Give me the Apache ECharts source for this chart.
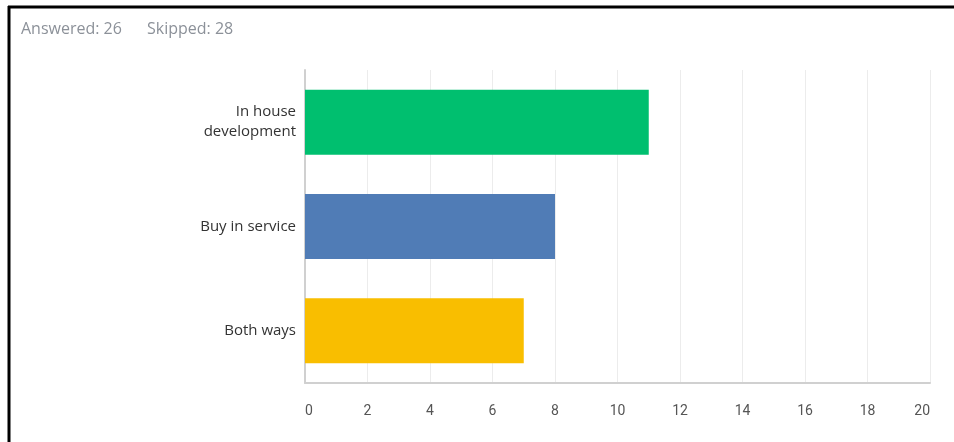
<!DOCTYPE html>
<html>
<head>
<meta charset="utf-8">
<script src="https://cdn.jsdelivr.net/npm/echarts@6/dist/echarts.min.js"></script>
<style>
html,body{margin:0;padding:0;background:#fff;}
#chart{width:954px;height:442px;}
</style>
</head>
<body>
<div id="chart"></div>
<script>
var categories = ['In house\ndevelopment', 'Buy in service', 'Both ways'];
var values = [11, 8, 7];
var barColors = ['#00BF6F', '#507CB6', '#F9BE00'];
var answeredText = 'Answered: 26';
var skippedText = 'Skipped: 28';

var chart = echarts.init(document.getElementById('chart'));
chart.setOption({
  animation: false,
  backgroundColor: '#fff',
  graphic: [
    {type: 'line', shape: {x1: 8, y1: 7, x2: 954, y2: 7}, style: {stroke: '#000', lineWidth: 3}},
    {type: 'line', shape: {x1: 9, y1: 6, x2: 9, y2: 442}, style: {stroke: '#000', lineWidth: 3}},
    {type: 'text', left: 21, top: 21, style: {text: answeredText, fill: '#8c9199', font: '16px "Open Sans", Roboto, sans-serif'}},
    {type: 'text', left: 147, top: 21, style: {text: skippedText, fill: '#8c9199', font: '16px "Open Sans", Roboto, sans-serif'}}
  ],
  grid: {left: 305, right: 24, top: 70, bottom: 59, containLabel: false},
  xAxis: {
    type: 'value', min: 0, max: 20, interval: 2,
    axisLine: {show: true, lineStyle: {color: '#d0d0d0', width: 2}},
    axisTick: {show: false},
    splitLine: {show: true, lineStyle: {color: '#ececec'}},
    axisLabel: {color: '#555', fontSize: 14, margin: 21, fontFamily: 'Roboto, sans-serif', alignMinLabel: 'left', alignMaxLabel: 'right'}
  },
  yAxis: {
    type: 'category', inverse: true, data: categories,
    axisLine: {show: true, lineStyle: {color: '#d0d0d0', width: 2}},
    axisTick: {show: false},
    axisLabel: {color: '#333', fontSize: 15, margin: 9, lineHeight: 20, fontFamily: '"Open Sans", Roboto, sans-serif', align: 'right'}
  },
  series: [{
    type: 'bar', barWidth: 65,
    data: values.map(function (v, i) { return {value: v, itemStyle: {color: barColors[i]}}; })
  }]
});
</script>
</body>
</html>
